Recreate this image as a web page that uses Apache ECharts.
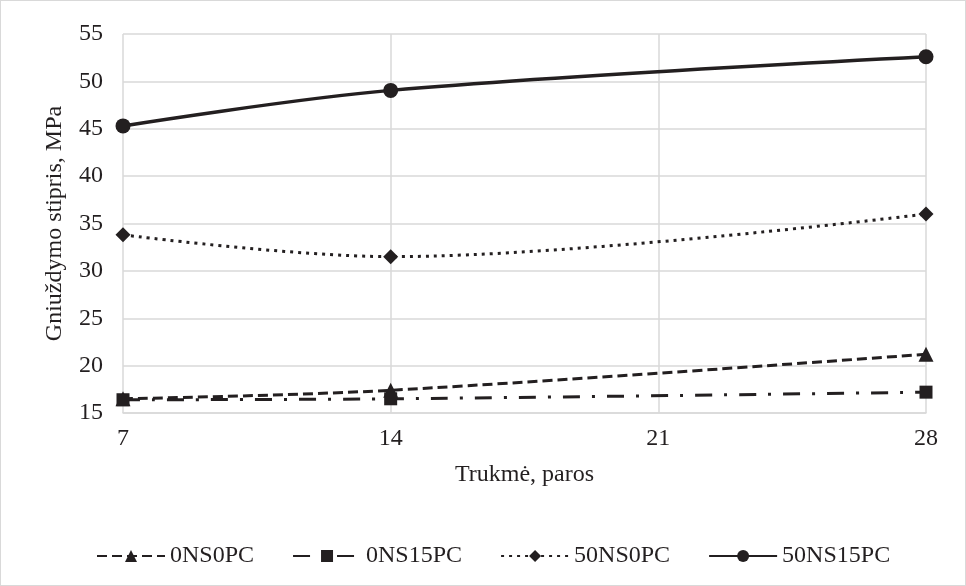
<!DOCTYPE html>
<html>
<head>
<meta charset="utf-8">
<script src="https://cdn.jsdelivr.net/npm/echarts@6/dist/echarts.min.js"></script>
<style>
  html, body { margin: 0; padding: 0; background: #fff; }
  #frame { width: 966px; height: 586px; box-sizing: border-box; border: 1px solid #d9d9d9; }
  #chart { width: 100%; height: 100%; }
</style>
</head>
<body>
<div id="frame"><div id="chart"></div></div>
<script>
// Curing age, days
const days = [7, 14, 28];
// Compressive strength, MPa
const s0NS0PC = [16.5, 17.4, 21.2];
const s0NS15PC = [16.4, 16.5, 17.2];
const s50NS0PC = [33.8, 31.5, 36.0];
const s50NS15PC = [45.3, 49.05, 52.6];
const xTicks = [7, 14, 21, 28];
const yTicks = [15, 20, 25, 30, 35, 40, 45, 50, 55];

const ink = '#231f20';
const textInk = '#231f20';
const font = '"Liberation Serif", "Times New Roman", serif';

function pairs(values) {
  return days.map((d, i) => [d, values[i]]);
}

function makeSeries(name, values, symbol, size, dash, width) {
  return {
    name: name,
    type: 'line',
    smooth: 0.35,
    data: pairs(values),
    symbol: symbol,
    symbolSize: size,
    showSymbol: true,
    itemStyle: { color: ink },
    lineStyle: { color: ink, width: width, type: dash, cap: 'butt' },
    emphasis: { disabled: true },
    z: 3
  };
}

const chart = echarts.init(document.getElementById('chart'), null, { renderer: 'canvas' });
chart.setOption({
  animation: false,
  backgroundColor: '#fff',
  textStyle: { fontFamily: font, color: textInk },
  grid: { left: 122, right: 39, top: 33, bottom: 172, containLabel: false },
  xAxis: {
    type: 'value',
    min: xTicks[0],
    max: xTicks[xTicks.length - 1],
    interval: 7,
    name: 'Trukmė, paros',
    nameLocation: 'middle',
    nameGap: 50,
    nameTextStyle: { fontFamily: font, fontSize: 24, color: textInk },
    axisLine: { show: true, lineStyle: { color: '#d9d9d9', width: 1.5 } },
    axisTick: { show: false },
    axisLabel: { fontFamily: font, fontSize: 24, color: textInk, margin: 14 },
    splitLine: { show: true, lineStyle: { color: '#d9d9d9', width: 1.5 } }
  },
  yAxis: {
    type: 'value',
    min: yTicks[0],
    max: yTicks[yTicks.length - 1],
    interval: 5,
    name: 'Gniuždymo stipris, MPa',
    nameLocation: 'middle',
    nameGap: 56,
    nameTextStyle: { fontFamily: font, fontSize: 24, color: textInk },
    axisLine: { show: false },
    axisTick: { show: false },
    axisLabel: { fontFamily: font, fontSize: 24, color: textInk, margin: 20 },
    splitLine: { show: true, lineStyle: { color: '#d9d9d9', width: 1.5 } }
  },
  legend: {
    top: 538,
    left: 90,
    itemWidth: 68,
    itemHeight: 15,
    itemGap: 38,
    textStyle: { fontFamily: font, fontSize: 24, color: textInk },
    data: ['0NS0PC', '0NS15PC', '50NS0PC', '50NS15PC']
  },
  series: [
    makeSeries('0NS0PC', s0NS0PC, 'triangle', 15, [10, 5], 3),
    makeSeries('0NS15PC', s0NS15PC, 'rect', 13, [17, 12, 3, 12], 3),
    makeSeries('50NS0PC', s50NS0PC, 'diamond', 15, [3, 5], 3),
    makeSeries('50NS15PC', s50NS15PC, 'circle', 15, 'solid', 3.5)
  ]
});
</script>
</body>
</html>
